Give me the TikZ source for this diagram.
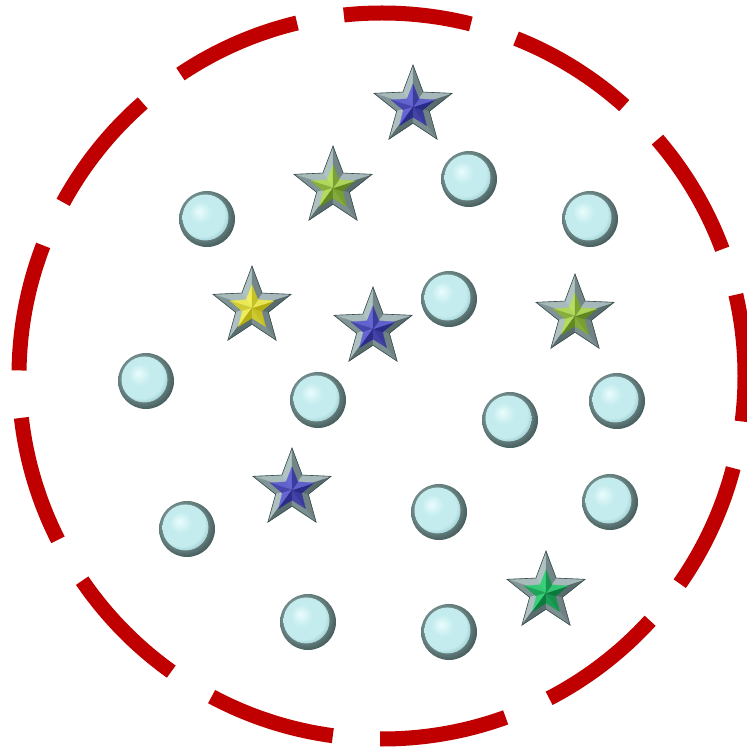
\documentclass[tikz,border=0pt]{standalone}
\usepackage{tikz}
\definecolor{ringred}{HTML}{C00000}
\definecolor{starL}{HTML}{C8DADA}
\definecolor{starD}{HTML}{44585A}
\definecolor{starEdge}{HTML}{3A4C4E}
\definecolor{blueL}{HTML}{7878E8}
\definecolor{blueD}{HTML}{1C1C78}
\definecolor{lgL}{HTML}{CFF570}
\definecolor{lgD}{HTML}{4C7412}
\definecolor{yelL}{HTML}{FFFF70}
\definecolor{yelD}{HTML}{A8A000}
\definecolor{grnL}{HTML}{44E88A}
\definecolor{grnD}{HTML}{006630}
\definecolor{rimL}{HTML}{C8DCDC}
\definecolor{rimM}{HTML}{8AA6A6}
\definecolor{rimD}{HTML}{425858}
\definecolor{inL}{HTML}{EAFCFD}
\definecolor{inM}{HTML}{C4ECEE}
\definecolor{inD}{HTML}{96C6CA}
\pgfdeclareradialshading{ballrim}{\pgfpoint{-6bp}{6bp}}{color(0bp)=(rimL); color(14bp)=(rimM); color(29bp)=(rimD); color(50bp)=(rimD)}
\pgfdeclareradialshading{ballin}{\pgfpoint{-7bp}{7bp}}{color(0bp)=(inL); color(12bp)=(inM); color(24bp)=(inM); color(31bp)=(inD); color(50bp)=(inD)}
\newcommand\bevstar[6]{%
  \begin{scope}[shift={(#1,#2)}]
  \foreach \k/\pc in {0/82,1/76,2/46,3/80,4/16,5/43,6/33,7/15,8/74,9/35}{
    \pgfmathsetmacro\aa{90+36*\k}
    \pgfmathsetmacro\ab{126+36*\k}
    \pgfmathsetmacro\ra{mod(\k,2)==0 ? #3 : #4*#3}
    \pgfmathsetmacro\rb{mod(\k,2)==0 ? #4*#3 : #3}
    \filldraw[fill=#5!\pc!#6, draw=#5!\pc!#6, line width=0.3pt, line join=round]
      (0,0) -- (\aa:\ra) -- (\ab:\rb) -- cycle;
  }
  \end{scope}}
\newcommand\gemstar[4]{%
  \bevstar{#1}{#2}{41}{0.42}{starL}{starD}
  \begin{scope}[shift={(#1,#2)}]
  \draw[starEdge, line width=0.6pt, line join=miter]
    (90:41) -- (126:17.2) -- (162:41) -- (198:17.2) -- (234:41) -- (270:17.2)
    -- (306:41) -- (342:17.2) -- (18:41) -- (54:17.2) -- cycle;
  \end{scope}
  \bevstar{#1}{#2-1}{23}{0.44}{#3}{#4}}
\newcommand\glassball{}
\renewcommand\glassball[2]{%
  \shade[shading=ballrim] (#1,#2) circle (28);
  \shade[shading=ballin] (#1-1.5,#2+1.5) circle (23);}
\begin{document}
\begin{tikzpicture}[x=1pt,y=1pt]
\useasboundingbox (0,0) rectangle (747,748);
\fill[white] (0,0) rectangle (747,748);
% dashed ring
\draw[ringred, line width=15pt, dash pattern=on 128pt off 47.5pt, dash phase=46pt] (382,372) circle (363);
% balls
\glassball{207}{529}
\glassball{469}{569}
\glassball{590}{529}
\glassball{449}{449}
\glassball{146}{367}
\glassball{318}{348}
\glassball{617}{347}
\glassball{510}{328}
\glassball{187}{219}
\glassball{439}{236}
\glassball{610}{246}
\glassball{308}{126}
\glassball{449}{116}
% stars
\gemstar{413}{642}{blueL}{blueD}
\gemstar{333}{561}{lgL}{lgD}
\gemstar{252}{441}{yelL}{yelD}
\gemstar{373}{420}{blueL}{blueD}
\gemstar{575}{433}{lgL}{lgD}
\gemstar{292}{259}{blueL}{blueD}
\gemstar{546}{156}{grnL}{grnD}
\end{tikzpicture}
\end{document}
